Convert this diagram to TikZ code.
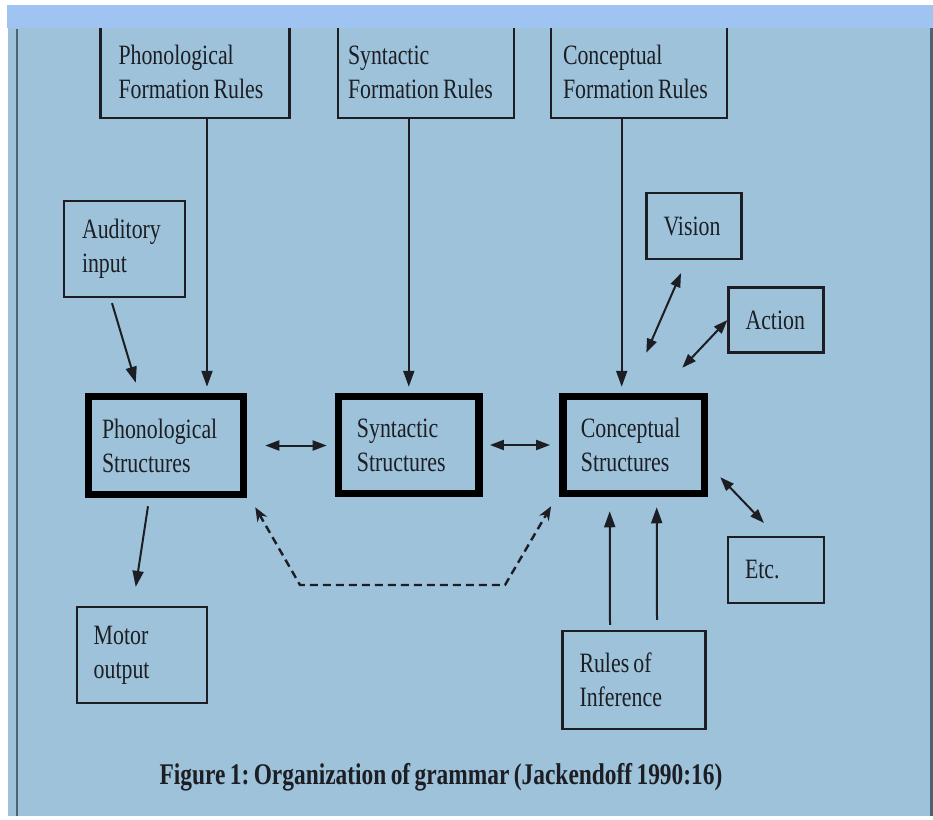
\documentclass[tikz,border=0pt]{standalone}
\usepackage{fontspec}
\setmainfont{Liberation Serif}[FakeStretch=0.78, WordSpace=0.75]
\usetikzlibrary{arrows.meta}
\frenchspacing

\definecolor{panelblue}{RGB}{157,194,218}
\definecolor{bandblue}{RGB}{160,196,242}
\definecolor{rimgray}{RGB}{78,98,112}
\definecolor{inkgray}{RGB}{28,30,36}

\tikzset{
  thinbox/.style={draw=inkgray, line width=2.2pt, align=flush left, inner xsep=17pt, inner ysep=0pt},
  thickbox/.style={draw=black, line width=7.5pt, align=flush left, inner ysep=0pt},
  arr/.style={-{Triangle[length=16pt,width=11pt]}, line width=2pt, draw=inkgray},
  dbl/.style={{Triangle[length=14pt,width=10pt]}-{Triangle[length=14pt,width=10pt]}, line width=2pt, draw=inkgray},
  dsh/.style={{Stealth[length=14pt,width=11pt]}-{Stealth[length=14pt,width=11pt]}, line width=2.4pt, dash pattern=on 8pt off 5pt, draw=inkgray}
}

\begin{document}
\begin{tikzpicture}[x=1pt, y=-1pt, font=\fontsize{28}{34}\selectfont, text=inkgray]
    \fill[white] (0,0) rectangle (933,819);
    \useasboundingbox (0,0) rectangle (933,819);
    \fill[panelblue] (8,28) rectangle (933,816);

    % formation rules (tops run under the band)
    \node[thinbox, inner xsep=18pt, text width=153pt, minimum height=92pt] (phonfr) at (195,72) {Phonological\\Formation Rules};
    \node[thinbox, inner xsep=10pt, text width=156pt, minimum height=92pt] (synfr) at (426,72) {Syntactic\\Formation Rules};
    \node[thinbox, inner xsep=12pt, text width=152pt, minimum height=92pt] (concfr) at (639,72) {Conceptual\\Formation Rules};

    \fill[bandblue] (7,5) rectangle (933,28);
    \draw[rimgray, line width=2.5pt] (17,29) -- (17,816);
    \draw[rimgray, line width=3pt] (931,28) -- (931,816);

    % structures
    \node[thickbox, inner xsep=13.5pt, text width=128pt, minimum height=98pt] (phonstr) at (166,445.5) {Phonological\\Structures};
    \node[thickbox, inner xsep=18.5pt, text width=103.7pt, minimum height=97pt] (synstr) at (408.8,445) {Syntactic\\Structures};
    \node[thickbox, inner xsep=18pt, text width=105.7pt, minimum height=97pt] (concstr) at (633.7,445) {Conceptual\\Structures};

    % other boxes
    \node[thinbox, inner xsep=18pt, text width=85pt, minimum height=96pt] (audin) at (124.5,249) {Auditory\\input};
    \node[thinbox, text width=96pt, minimum height=96pt] (motor) at (141.7,655) {Motor\\output};
    \node[thinbox, text width=61pt, minimum height=66pt] (vision) at (694,226) {Vision};
    \node[thinbox, text width=61pt, minimum height=65pt] (action) at (776,320) {Action};
    \node[thinbox, text width=62pt, minimum height=66pt] (etc) at (776,570) {Etc.};
    \node[thinbox, text width=109pt, minimum height=98pt] (infer) at (634,680) {Rules of\\Inference};

    % connectors
    \draw[arr, shorten >=6pt] ([xshift=12pt]phonfr.south) -- ([xshift=12pt]phonfr.south |- phonstr.north);
    \draw[arr, shorten >=6pt] (synfr.south -| synstr.north) -- (synstr.north);
    \draw[arr, shorten >=6pt] ([xshift=-12pt]concstr.north |- concfr.south) -- ([xshift=-12pt]concstr.north);
    \draw[arr] ([xshift=-12.5pt,yshift=-5pt]audin.south) -- ([xshift=51pt,yshift=10pt]phonstr.north west);
    \draw[arr] ([xshift=-18pt,yshift=-8pt]phonstr.south) -- ([xshift=-6pt,yshift=19pt]motor.north);

    \draw[dbl, shorten <=18pt, shorten >=8pt] (phonstr.east) -- (phonstr.east -| synstr.west);
    \draw[dbl, shorten <=7pt, shorten >=9pt] (synstr.east) -- (synstr.east -| concstr.west);
    \draw[dbl] ([xshift=-13pt,yshift=-13pt]vision.south) -- ([xshift=-62pt,yshift=40pt]concstr.north east);
    \draw[dbl] (action.west) -- ([xshift=-26pt,yshift=25pt]concstr.north east);
    \draw[dbl] ([xshift=12pt,yshift=20pt]concstr.south east) -- ([xshift=37pt,yshift=13pt]etc.north west);

    \draw[arr] ([xshift=-24pt,yshift=5pt]infer.north) -- ([xshift=-24pt,yshift=-14pt]concstr.south);
    \draw[arr] ([xshift=23pt,yshift=10pt]infer.north) -- ([xshift=23pt,yshift=-10pt]concstr.south);

    \coordinate (dashl) at (300,585);
    \coordinate (dashr) at (505,585);
    \draw[dsh] ([xshift=8pt,yshift=-9pt]phonstr.south east) -- (dashl) -- (dashr) -- ([xshift=-8pt,yshift=-9pt]concstr.south west);

    \node[font=\fontsize{30}{34}\selectfont\bfseries] (caption) at (441,777) {Figure 1: Organization of grammar (Jackendoff 1990:16)};
\end{tikzpicture}
\end{document}
